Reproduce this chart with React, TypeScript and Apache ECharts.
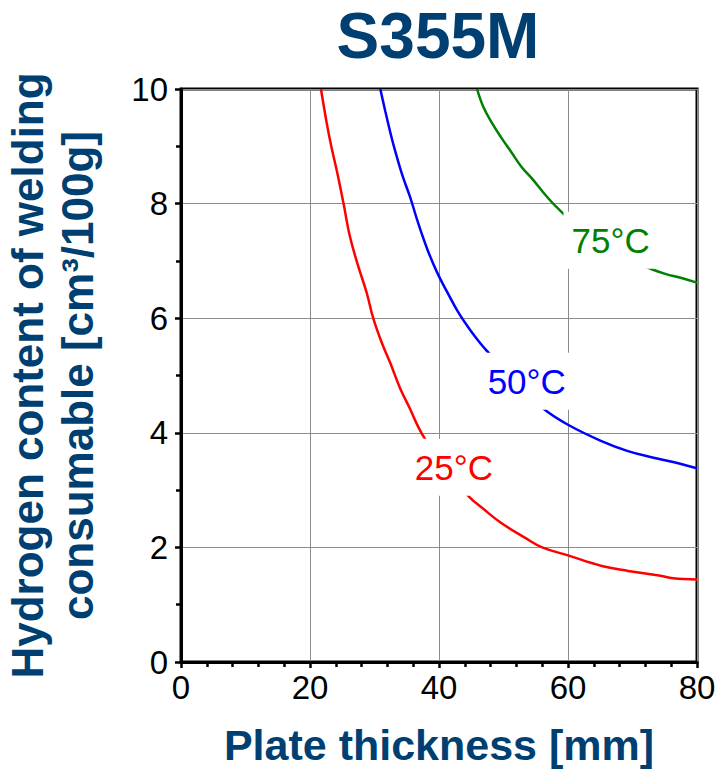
import React, { useEffect, useRef } from "react";
import * as echarts from "echarts";

const titleText = "S355M";
const xAxisTitle = "Plate thickness [mm]";
const yAxisTitle = "Hydrogen content of welding\nconsumable [cm³/100g]";

const curve25: [number, number][] = [
  [21.7, 10], [22.6, 9.4], [23.3, 9.0], [24.3, 8.5], [25.2, 8.0], [26.2, 7.42],
  [27.5, 6.9], [28.8, 6.44], [29.8, 6.0], [31.1, 5.58], [32.4, 5.23], [34.0, 4.77],
  [35.5, 4.42], [36.8, 4.1], [37.9, 3.88], [41.3, 3.32], [44.8, 2.87], [46.9, 2.67],
  [49.6, 2.43], [53.3, 2.17], [56.0, 2.0], [60, 1.86], [65.1, 1.68], [69.3, 1.59],
  [74.1, 1.51], [76.3, 1.46], [80, 1.44],
];
const curve50: [number, number][] = [
  [30.9, 10], [31.7, 9.6], [32.5, 9.22], [33.2, 8.92], [34.3, 8.5], [35.5, 8.12],
  [36.8, 7.65], [38.2, 7.2], [39.7, 6.8], [41.3, 6.45], [43.0, 6.1], [44.8, 5.8],
  [46.5, 5.55], [47.5, 5.42], [52, 4.85], [56.3, 4.41], [60, 4.14], [65.1, 3.86],
  [69.3, 3.68], [73.1, 3.57], [76.3, 3.49], [80, 3.38],
];
const curve75: [number, number][] = [
  [45.9, 10], [46.9, 9.68], [48.3, 9.39], [49.6, 9.16], [51.2, 8.9], [52.8, 8.64],
  [54.4, 8.44], [56.5, 8.15], [58.4, 7.92], [62, 7.55], [66, 7.22], [70, 7.0],
  [73.1, 6.85], [75.2, 6.77], [77.3, 6.71], [80, 6.62],
];
const curveNames = ["25°C", "50°C", "75°C"];
const curveColors = ["#ff0000", "#0000ff", "#008000"];
const labelPositions: [number, number][] = [[42.3, 3.4], [53.6, 4.9], [66.6, 7.36]];

const FONT = "'Liberation Sans', Arial, sans-serif";
const TITLE_COLOR = "#003f72";

export default function App() {
  const ref = useRef<HTMLDivElement>(null);
  useEffect(() => {
    if (!ref.current) return;
    const chart = echarts.init(ref.current, null, { renderer: "svg" });
    const curves = [curve25, curve50, curve75];
    const lineSeries = curves.map((d, i) => ({
      type: "line",
      name: curveNames[i],
      data: d,
      showSymbol: false,
      smooth: 0.4,
      lineStyle: { color: curveColors[i], width: 2.5 },
      z: 3,
    }));
    const axisCommon = {
      axisLine: { show: true, lineStyle: { color: "#000", width: 3 } },
      axisTick: { show: true, length: 6, lineStyle: { color: "#000", width: 2.5 } },
      splitLine: { show: true, lineStyle: { color: "#8c8c8c", width: 1 } },
    };
    chart.setOption({
      animation: false,
      backgroundColor: "#ffffff",
      grid: {
        left: 181, right: 20, top: 89, bottom: 109,
        containLabel: false,
        outerBoundsMode: "none",
        show: true, borderColor: "#000", borderWidth: 3, backgroundColor: "transparent",
      },
      xAxis: {
        type: "value",
        min: 0, max: 80, interval: 20,
        name: xAxisTitle,
        nameLocation: "middle",
        nameGap: 61,
        nameTextStyle: { fontSize: 43, fontWeight: "bold", color: TITLE_COLOR, fontFamily: FONT },
        ...axisCommon,
        minorTick: { show: true, splitNumber: 5, length: 5, lineStyle: { color: "#000", width: 2.5 } },
        axisLabel: { fontSize: 33, color: "#000", fontFamily: FONT, margin: 9 },
      },
      yAxis: {
        type: "value",
        min: 0, max: 10, interval: 2,
        name: yAxisTitle,
        nameLocation: "middle",
        nameRotate: 90,
        nameGap: 79,
        nameTextStyle: {
          fontSize: 44, fontWeight: "bold", color: TITLE_COLOR, fontFamily: FONT,
          lineHeight: 50, align: "center",
        },
        ...axisCommon,
        minorTick: { show: true, splitNumber: 2, length: 5, lineStyle: { color: "#000", width: 2.5 } },
        axisLabel: { fontSize: 33, color: "#000", fontFamily: FONT, margin: 13 },
      },
      series: lineSeries,
    });

    const labelGraphics = labelPositions.map((p, i) => {
      const px = chart.convertToPixel({ gridIndex: 0 }, p) as number[];
      return {
        type: "text",
        x: px[0],
        y: px[1],
        z: 100,
        style: {
          text: curveNames[i],
          font: `35px ${FONT}`,
          fill: curveColors[i],
          textAlign: "center",
          textVerticalAlign: "middle",
          backgroundColor: "#ffffff",
          padding: [12, 8, 10, 8],
        },
      };
    });
    chart.setOption({
      graphic: [
        {
          type: "text",
          x: 438,
          y: 36,
          z: 100,
          style: {
            text: titleText,
            font: `bold 64px ${FONT}`,
            fill: TITLE_COLOR,
            textAlign: "center",
            textVerticalAlign: "middle",
          },
        },
        ...labelGraphics,
      ],
    });
    return () => chart.dispose();
  }, []);
  return (
    <div
      ref={ref}
      style={{ position: "fixed", left: 0, top: 0, width: 717, height: 771, background: "#fff" }}
    />
  );
}
